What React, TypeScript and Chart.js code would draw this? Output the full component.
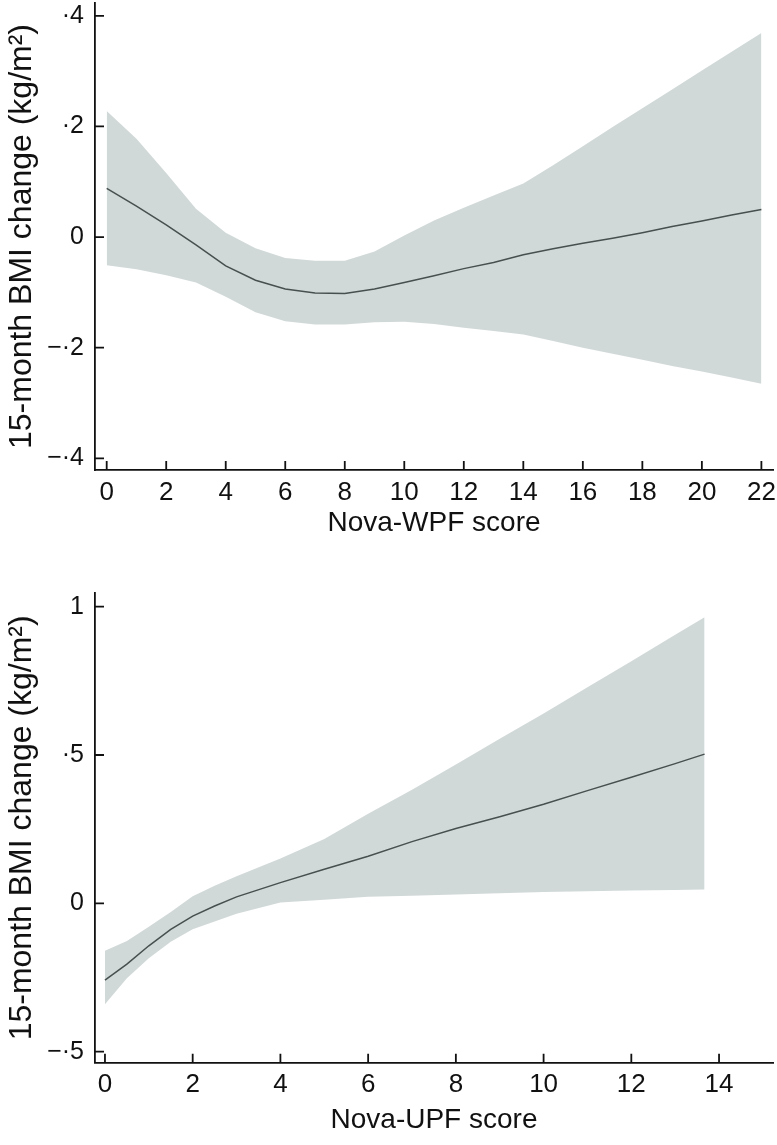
import React, { useEffect, useRef } from "react";
import { Chart, registerables } from "chart.js";

Chart.register(...registerables);

// ---------- Data: Nova-WPF panel ----------
const wpfX = [0, 1, 2, 3, 4, 5, 6, 7, 8, 9, 10, 11, 12, 13, 14, 15, 16, 17, 18, 19, 20, 21, 22];
const wpfFit = [0.088, 0.056, 0.022, -0.014, -0.052, -0.078, -0.094, -0.101, -0.102, -0.094, -0.082, -0.070, -0.057, -0.046, -0.032, -0.021, -0.011, -0.002, 0.008, 0.019, 0.029, 0.040, 0.050];
const wpfUpper = [0.228, 0.178, 0.116, 0.051, 0.008, -0.020, -0.038, -0.043, -0.043, -0.026, 0.003, 0.030, 0.053, 0.075, 0.097, 0.130, 0.164, 0.199, 0.233, 0.267, 0.301, 0.335, 0.369];
const wpfLower = [-0.051, -0.058, -0.069, -0.082, -0.108, -0.136, -0.152, -0.158, -0.158, -0.154, -0.153, -0.157, -0.164, -0.170, -0.176, -0.188, -0.200, -0.211, -0.222, -0.233, -0.243, -0.254, -0.265];
const wpfXTicks = [0, 2, 4, 6, 8, 10, 12, 14, 16, 18, 20, 22];
const wpfXTickLabels = ["0", "2", "4", "6", "8", "10", "12", "14", "16", "18", "20", "22"];
const wpfYTicks = [-0.4, -0.2, 0, 0.2, 0.4];
const wpfYTickLabels = ["\u2212\u00B74", "\u2212\u00B72", "0", "\u00B72", "\u00B74"];

// ---------- Data: Nova-UPF panel ----------
const upfX = [0, 0.5, 1, 1.5, 2, 2.5, 3, 4, 5, 6, 7, 8, 9, 10, 11, 12, 13, 13.67];
const upfFit = [-0.259, -0.205, -0.143, -0.088, -0.043, -0.009, 0.022, 0.070, 0.115, 0.159, 0.208, 0.252, 0.292, 0.334, 0.380, 0.425, 0.471, 0.503];
const upfUpper = [-0.160, -0.127, -0.079, -0.029, 0.024, 0.059, 0.091, 0.151, 0.217, 0.302, 0.383, 0.468, 0.555, 0.640, 0.728, 0.816, 0.905, 0.964];
const upfLower = [-0.340, -0.252, -0.185, -0.129, -0.087, -0.061, -0.035, 0.003, 0.012, 0.022, 0.026, 0.030, 0.034, 0.038, 0.041, 0.043, 0.045, 0.047];
const upfXTicks = [0, 2, 4, 6, 8, 10, 12, 14];
const upfXTickLabels = ["0", "2", "4", "6", "8", "10", "12", "14"];
const upfYTicks = [-0.5, 0, 0.5, 1];
const upfYTickLabels = ["\u2212\u00B75", "0", "\u00B75", "1"];

const yTitle = "15-month BMI change (kg/m\u00B2)";
const wpfXTitle = "Nova-WPF score";
const upfXTitle = "Nova-UPF score";

const FONT = "'Liberation Sans', Arial, Helvetica, sans-serif";
const FILL = "#d1d9d8";
const LINE = "#46504f";

type PanelProps = {
  xs: number[];
  fit: number[];
  upper: number[];
  lower: number[];
  xTicks: number[];
  xTickLabels: string[];
  yTicks: number[];
  yTickLabels: string[];
  xTitle: string;
  xMin: number;
  xMax: number;
  yMin: number;
  yMax: number;
  height: number;
  padTop: number;
  xAxisHeight: number;
  xTitlePadBottom: number;
};

const inwardTicks = {
  id: "inwardTicks",
  afterDraw(chart: any) {
    const { ctx, chartArea, scales } = chart;
    const len = 9;
    ctx.save();
    ctx.strokeStyle = "#111";
    ctx.lineWidth = 1.8;
    ctx.beginPath();
    for (const t of scales.x.ticks) {
      const px = scales.x.getPixelForValue(t.value);
      ctx.moveTo(px, chartArea.bottom);
      ctx.lineTo(px, chartArea.bottom - len);
    }
    for (const t of scales.y.ticks) {
      const py = scales.y.getPixelForValue(t.value);
      ctx.moveTo(chartArea.left, py);
      ctx.lineTo(chartArea.left + len, py);
    }
    ctx.stroke();
    ctx.restore();
  },
};

function Panel(p: PanelProps) {
  const ref = useRef<HTMLCanvasElement | null>(null);
  useEffect(() => {
    if (!ref.current) return;
    const toPts = (ys: number[]) => p.xs.map((x, i) => ({ x, y: ys[i] }));
    const chart = new Chart(ref.current, {
      type: "line",
      data: {
        datasets: [
          {
            data: toPts(p.fit),
            borderWidth: 1.5,
            borderColor: LINE,
            pointRadius: 0,
            fill: false,
          },
          {
            data: toPts(p.upper),
            borderWidth: 0,
            borderColor: "rgba(0,0,0,0)",
            pointRadius: 0,
            fill: false,
          },
          {
            data: toPts(p.lower),
            borderWidth: 0,
            borderColor: "rgba(0,0,0,0)",
            backgroundColor: FILL,
            pointRadius: 0,
            fill: "-1",
          },
        ],
      },
      options: {
        animation: false,
        responsive: false,
        maintainAspectRatio: false,
        layout: { padding: { top: p.padTop, right: 4, left: 0, bottom: 0 } },
        plugins: {
          legend: { display: false },
          tooltip: { enabled: false },
        },
        scales: {
          x: {
            type: "linear",
            min: p.xMin,
            max: p.xMax,
            grid: { display: true, drawOnChartArea: false, drawTicks: false, color: "rgba(0,0,0,0)" },
            border: { display: true, color: "#111", width: 1.8 },
            ticks: {
              autoSkip: false,
              maxRotation: 0,
              padding: 7,
              color: "#111",
              font: { family: FONT, size: 26 },
              callback: (_v: any, i: number) => p.xTickLabels[i],
            },
            afterBuildTicks: (s: any) => {
              s.ticks = p.xTicks.map((v) => ({ value: v }));
            },
            afterFit: (s: any) => {
              s.height = p.xAxisHeight;
              s.paddingLeft = 0;
              s.paddingRight = 0;
            },
            title: {
              display: true,
              text: p.xTitle,
              color: "#111",
              font: { family: FONT, size: 28 },
              padding: { top: 0, bottom: p.xTitlePadBottom },
            },
          },
          y: {
            type: "linear",
            min: p.yMin,
            max: p.yMax,
            grid: { display: true, drawOnChartArea: false, drawTicks: false, color: "rgba(0,0,0,0)" },
            border: { display: true, color: "#111", width: 1.8 },
            ticks: {
              padding: 11,
              color: "#111",
              font: { family: FONT, size: 25 },
              callback: (_v: any, i: number) => p.yTickLabels[i],
            },
            afterBuildTicks: (s: any) => {
              s.ticks = p.yTicks.map((v) => ({ value: v }));
            },
            afterFit: (s: any) => {
              s.width = 95;
              s.paddingTop = 0;
              s.paddingBottom = 0;
            },
            title: {
              display: true,
              text: yTitle,
              color: "#111",
              font: { family: FONT, size: 32 },
              padding: { top: 3, bottom: 0 },
            },
          },
        },
      },
      plugins: [inwardTicks],
    });
    return () => chart.destroy();
  }, []);
  return <canvas ref={ref} width={777} height={p.height} style={{ display: "block", width: 777, height: p.height }} />;
}

export default function App() {
  return (
    <div style={{ position: "absolute", left: 0, top: 0, width: 777, height: 1145, background: "#fff" }}>
      <Panel
        xs={wpfX}
        fit={wpfFit}
        upper={wpfUpper}
        lower={wpfLower}
        xTicks={wpfXTicks}
        xTickLabels={wpfXTickLabels}
        yTicks={wpfYTicks}
        yTickLabels={wpfYTickLabels}
        xTitle={wpfXTitle}
        xMin={-0.393}
        xMax={22.39}
        yMin={-0.4211}
        yMax={0.4232}
        height={565}
        padTop={3}
        xAxisHeight={95}
        xTitlePadBottom={25}
      />
      <Panel
        xs={upfX}
        fit={upfFit}
        upper={upfUpper}
        lower={upfLower}
        xTicks={upfXTicks}
        xTickLabels={upfXTickLabels}
        yTicks={upfYTicks}
        yTickLabels={upfYTickLabels}
        xTitle={upfXTitle}
        xMin={-0.227}
        xMax={15.23}
        yMin={-0.537}
        yMax={1.046}
        height={580}
        padTop={28}
        xAxisHeight={82.3}
        xTitlePadBottom={8}
      />
    </div>
  );
}
